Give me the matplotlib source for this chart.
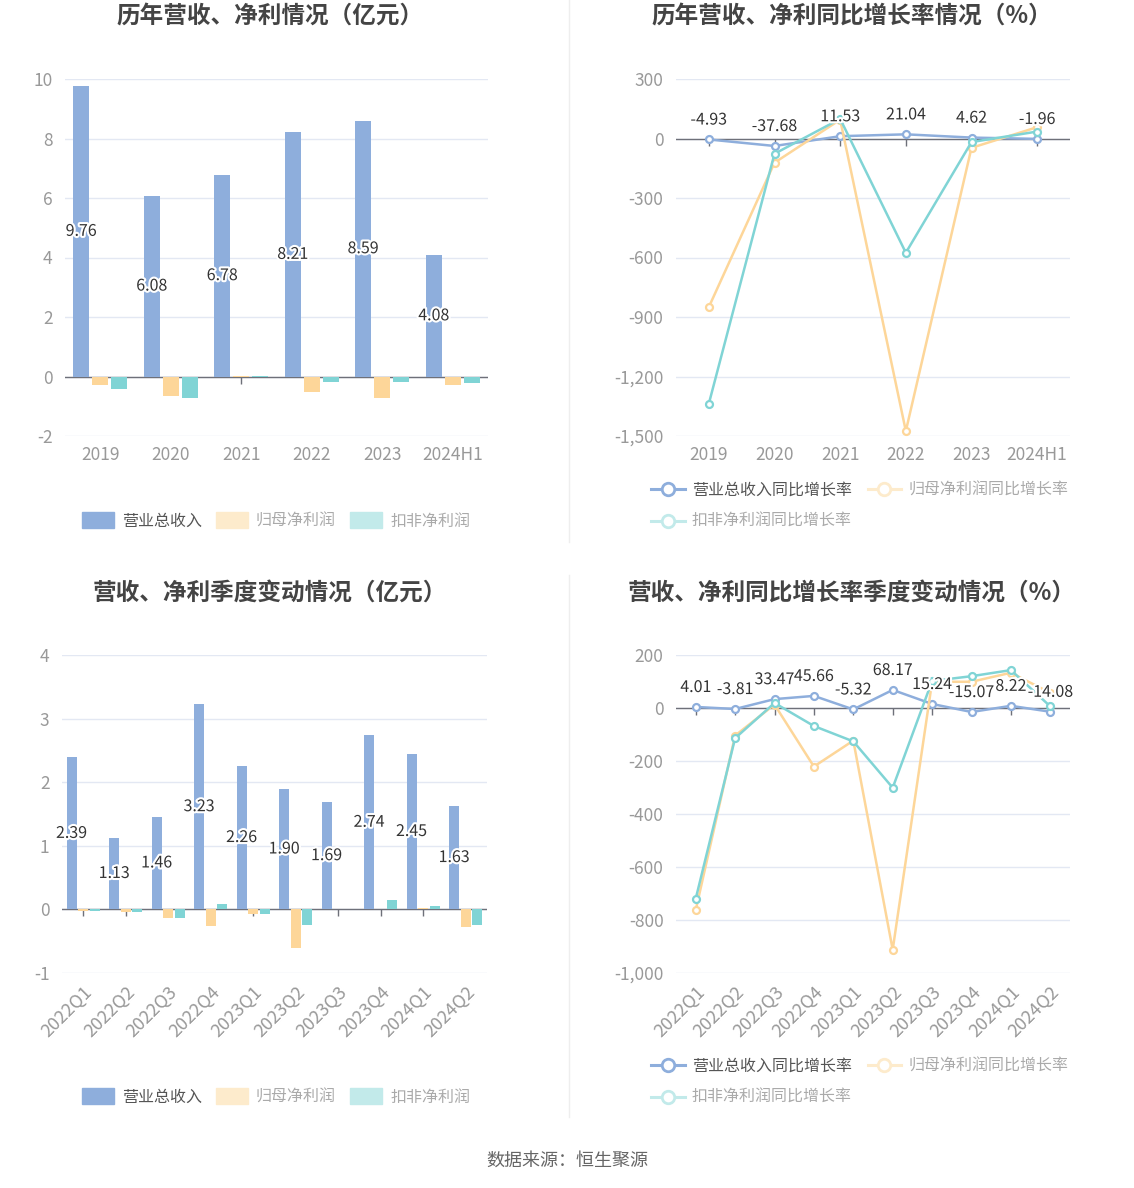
import matplotlib
matplotlib.use("Agg")
import matplotlib.pyplot as plt
import numpy as np
from matplotlib.lines import Line2D
from matplotlib.patches import Patch
from matplotlib.ticker import FuncFormatter
import matplotlib.patheffects as pe

plt.rcParams['font.family'] = ['Noto Sans CJK SC', 'DejaVu Sans']
plt.rcParams['axes.unicode_minus'] = False

# 年度数据
years = ['2019', '2020', '2021', '2022', '2023', '2024H1']
rev_year = [9.76, 6.08, 6.78, 8.21, 8.59, 4.08]
np_year = [-0.30, -0.67, 0.03, -0.53, -0.73, -0.27]
kf_year = [-0.42, -0.72, 0.03, -0.17, -0.20, -0.21]
rev_g_year = [-4.93, -37.68, 11.53, 21.04, 4.62, -1.96]
np_g_year = [-850, -122, 95, -1475, -47, 57]
kf_g_year = [-1337, -77, 99, -576, -18, 35]

# 季度数据
quarters = ['2022Q1', '2022Q2', '2022Q3', '2022Q4', '2023Q1', '2023Q2',
            '2023Q3', '2023Q4', '2024Q1', '2024Q2']
rev_q = [2.39, 1.13, 1.46, 3.23, 2.26, 1.90, 1.69, 2.74, 2.45, 1.63]
np_q = [-0.03, -0.04, -0.13, -0.26, -0.07, -0.61, 0.0, 0.01, 0.02, -0.28]
kf_q = [-0.03, -0.04, -0.13, 0.08, -0.07, -0.24, 0.0, 0.15, 0.05, -0.24]
rev_g_q = [4.01, -3.81, 33.47, 45.66, -5.32, 68.17, 15.24, -15.07, 8.22, -14.08]
np_g_q = [-763, -104, 13, -221, -123, -912, 99, 99, 133, 57]
kf_g_q = [-720, -114, 19, -68, -126, -301, 102, 120, 143, 6]

BLUE = '#8eaedc'
ORANGE = '#fdd699'
CYAN = '#80d4d5'
ORANGE_L = '#fdebcc'
CYAN_L = '#c2eaea'
GRID = '#e3e8f3'

W, H = 1134, 1188
fig = plt.figure(figsize=(W / 100, H / 100), dpi=100)


def add_ax(l, r, t, b):
    return fig.add_axes([l / W, 1 - b / H, (r - l) / W, (b - t) / H])


def style(ax, cats, ylim, step, rot=False):
    n = len(cats)
    ax.set_xlim(-0.5, n - 0.5)
    ax.set_ylim(*ylim)
    ax.set_yticks(np.arange(ylim[0], ylim[1] + step / 2, step))
    ax.yaxis.set_major_formatter(FuncFormatter(lambda v, p: f'{v:,.0f}'))
    ax.set_xticks(np.arange(n))
    ax.tick_params(axis='both', length=0, colors='#999999', labelsize=12.5)
    if rot:
        ax.set_xticklabels(cats, rotation=45, ha='right', va='top', rotation_mode='anchor', fontsize=13)
    else:
        ax.set_xticklabels(cats)
    ax.tick_params(axis='y', pad=9)
    ax.tick_params(axis='x', pad=7)
    for s in ax.spines.values():
        s.set_visible(False)
    ax.grid(axis='y', color=GRID, lw=1)
    ax.set_axisbelow(True)
    ax.axhline(0, color='#6e7079', lw=1, zorder=2)
    ax.plot(np.arange(n), np.zeros(n), linestyle='none', marker=3, color='#6e7079',
            markersize=5, markeredgewidth=1, zorder=2)


stroke = [pe.withStroke(linewidth=3, foreground='white')]


def bars(ax, cats, rev, npf, kf, w, off):
    x = np.arange(len(cats))
    ax.bar(x - off, rev, w, color=BLUE, zorder=3)
    ax.bar(x, npf, w, color=ORANGE, zorder=3)
    ax.bar(x + off, kf, w, color=CYAN, zorder=3)
    for i, v in enumerate(rev):
        ax.text(i - off, v / 2, f'{v:.2f}', ha='center', va='center', fontsize=11.5,
                color='#333333', path_effects=stroke, zorder=5)


def lines(ax, cats, rev, npf, kf):
    x = np.arange(len(cats))
    kw = dict(lw=1.8, marker='o', markersize=5, markerfacecolor='white', markeredgewidth=1.6, zorder=3)
    ax.plot(x, rev, color=BLUE, **kw)
    ax.plot(x, npf, color=ORANGE, **kw)
    ax.plot(x, kf, color=CYAN, **kw)
    for i, v in enumerate(rev):
        ax.annotate(f'{v:.2f}', (i, v), xytext=(0, 14), textcoords='offset points',
                    ha='center', va='center', fontsize=11.5, color='#333333',
                    path_effects=stroke, zorder=5)


ax1 = add_ax(65, 488, 79, 436)
style(ax1, years, (-2, 10), 2)
bars(ax1, years, rev_year, np_year, kf_year, 0.23, 0.27)

ax2 = add_ax(676, 1070, 79, 436)
style(ax2, years, (-1500, 300), 300)
lines(ax2, years, rev_g_year, np_g_year, kf_g_year)

ax3 = add_ax(62, 487, 655, 973)
style(ax3, quarters, (-1, 4), 1, rot=True)
bars(ax3, quarters, rev_q, np_q, kf_q, 0.235, 0.275)

ax4 = add_ax(676, 1070, 655, 973)
style(ax4, quarters, (-1000, 200), 200, rot=True)
lines(ax4, quarters, rev_g_q, np_g_q, kf_g_q)

title_kw = dict(ha='center', va='center', fontsize=17, fontweight='bold', color='#444444')
fig.text(270 / W, 1 - 17 / H, '历年营收、净利情况（亿元）', **title_kw)
fig.text(852 / W, 1 - 17 / H, '历年营收、净利同比增长率情况（%）', **title_kw)
fig.text(270 / W, 1 - 593 / H, '营收、净利季度变动情况（亿元）', **title_kw)
fig.text(852 / W, 1 - 593 / H, '营收、净利同比增长率季度变动情况（%）', **title_kw)

# 图例
bar_handles = [Patch(color=BLUE), Patch(color=ORANGE_L), Patch(color=CYAN_L)]
bar_labels = ['营业总收入', '归母净利润', '扣非净利润']
line_kw = dict(lw=2.2, marker='o', markersize=9, markerfacecolor='white', markeredgewidth=2)
line_handles = [Line2D([], [], color=BLUE, **line_kw),
                Line2D([], [], color=CYAN_L, **line_kw),
                Line2D([], [], color=ORANGE_L, **line_kw)]
line_labels = ['营业总收入同比增长率', '扣非净利润同比增长率', '归母净利润同比增长率']

for yc in (521, 1097):
    lg = fig.legend(bar_handles, bar_labels, loc='center', bbox_to_anchor=(276 / W, 1 - yc / H),
                    ncol=3, frameon=False, fontsize=11.5, handlelength=2.0, handleheight=1.1,
                    handletextpad=0.5, columnspacing=0.9, borderpad=0, borderaxespad=0)
    for t, c in zip(lg.get_texts(), ['#555555', '#aaaaaa', '#aaaaaa']):
        t.set_color(c)

for yc in (506, 1082):
    lg = fig.legend(line_handles, line_labels, loc='center left', bbox_to_anchor=(651 / W, 1 - yc / H),
                    ncol=2, frameon=False, fontsize=11.5, handlelength=2.1,
                    handletextpad=0.45, columnspacing=1.0, labelspacing=0.9,
                    borderpad=0, borderaxespad=0)
    for t, c in zip(lg.get_texts(), ['#555555', '#aaaaaa', '#aaaaaa']):
        t.set_color(c)

fig.add_artist(Line2D([569 / W, 569 / W], [1, 1 - 542 / H], color='#eeeeee', lw=1))
fig.add_artist(Line2D([569 / W, 569 / W], [1 - 575 / H, 1 - 1117 / H], color='#eeeeee', lw=1))

fig.text(567 / W, 1 - 1161 / H, '数据来源：恒生聚源', ha='center', va='center', fontsize=13, color='#666666')

fig.savefig('out.png', dpi=100)
